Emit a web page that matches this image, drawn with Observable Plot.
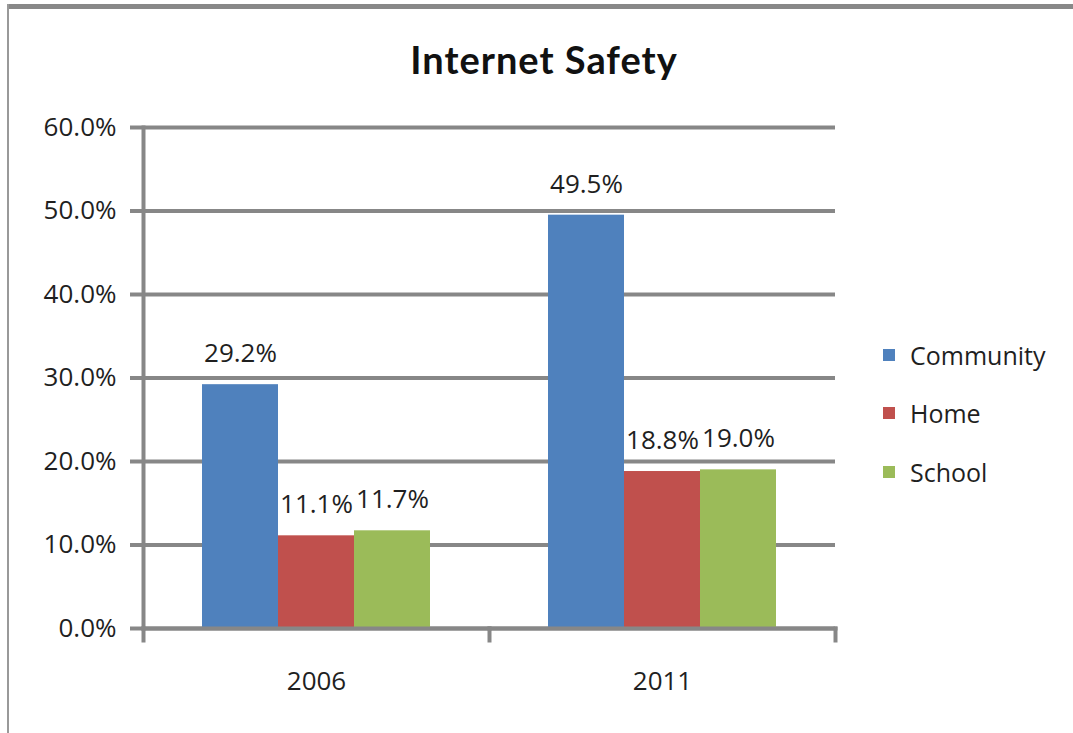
<!DOCTYPE html>
<html>
<head>
<meta charset="utf-8">
<script src="https://cdn.jsdelivr.net/npm/d3@7"></script>
<script src="https://cdn.jsdelivr.net/npm/@observablehq/plot@0.6"></script>
<style>
  html, body { margin: 0; padding: 0; background: #fff; }
  #wrap { position: relative; width: 1073px; height: 733px; overflow: hidden; background: #fff; }
  #chart { position: absolute; left: 0; top: 0; }
  #frameTop { position: absolute; left: 7px; top: 4px; width: 1066px; height: 5px; background: #888; }
  #frameLeft { position: absolute; left: 7px; top: 4px; width: 2px; height: 729px; background: #999; }
  #title { position: absolute; left: 0; width: 1088px; top: 36px; text-align: center;
           font-family: Lato, "Open Sans", sans-serif; font-weight: 700; font-size: 38px; color: #111; letter-spacing: 1px; }
  #legend { position: absolute; left: 883px; top: 0; font-family: "Open Sans", sans-serif; font-size: 25px; color: #1f1f1f; }
  .item { position: absolute; left: 0; display: flex; align-items: center; white-space: nowrap; height: 30px; }
  .sw { width: 12px; height: 12px; margin-right: 15px; }
</style>
</head>
<body>
<div id="wrap">
  <div id="chart"></div>
  <div id="frameTop"></div>
  <div id="frameLeft"></div>
  <div id="title">Internet Safety</div>
  <div id="legend"></div>
</div>
<script>
const years = ["2006", "2011"];
const series = ["Community", "Home", "School"];
const community = [0.292, 0.495];
const home = [0.111, 0.188];
const school = [0.117, 0.190];
const yTicks = [0, 0.1, 0.2, 0.3, 0.4, 0.5, 0.6];
const colors = ["#4f81bd", "#c0504d", "#9bbb59"];

const valuesBySeries = [community, home, school];
const data = years.flatMap((yr, i) =>
  series.map((s, k) => ({ year: yr, series: s, value: valuesBySeries[k][i] }))
);

const grid = "#878787";
const lw = 4;

const plot = Plot.plot({
  width: 1073,
  height: 733,
  marginLeft: 143,
  marginRight: 238,
  marginTop: 127,
  marginBottom: 105,
  style: { fontFamily: "'Open Sans', sans-serif", fontSize: "26px", color: "#1f1f1f", background: "transparent" },
  fx: { domain: years, padding: 0, label: null, axis: null },
  x: { domain: series, paddingInner: 0, paddingOuter: 0.75, axis: null },
  y: { domain: [0, 0.6], axis: null },
  color: { domain: series, range: colors },
  marks: [
    Plot.ruleY(yTicks, { stroke: grid, strokeWidth: lw }),
    Plot.barY(data, { fx: "year", x: "series", y: "value", fill: "series" }),
    Plot.text(data, {
      fx: "year", x: "series", y: "value",
      text: d => (d.value * 100).toFixed(1) + "%",
      dy: -31, fill: "#1f1f1f"
    }),
    Plot.frame({ anchor: "left", facetAnchor: "left", stroke: grid, strokeWidth: lw }),
    Plot.frame({ anchor: "bottom", stroke: grid, strokeWidth: lw }),
    Plot.frame({ anchor: "left", insetTop: 501, insetBottom: -12, stroke: grid, strokeWidth: lw }),
    Plot.frame({ anchor: "right", facetAnchor: "right", insetTop: 501, insetBottom: -12, stroke: grid, strokeWidth: lw }),
    Plot.axisY({ ticks: yTicks, tickFormat: ".1%", tickSize: 13, tickPadding: 14, stroke: grid, strokeWidth: lw, fill: "#1f1f1f", label: null }),
    Plot.axisFx({ anchor: "bottom", tickSize: 0, tickPadding: 43, fill: "#1f1f1f", label: null })
  ]
});
document.getElementById("chart").appendChild(plot);

const legend = document.getElementById("legend");
const legendY = [355, 413, 472];
series.forEach((s, k) => {
  const row = document.createElement("div");
  row.className = "item";
  row.style.top = (legendY[k] - 15) + "px";
  const sw = document.createElement("div");
  sw.className = "sw";
  sw.style.background = colors[k];
  const t = document.createElement("span");
  t.textContent = s;
  row.appendChild(sw);
  row.appendChild(t);
  legend.appendChild(row);
});
</script>
</body>
</html>
